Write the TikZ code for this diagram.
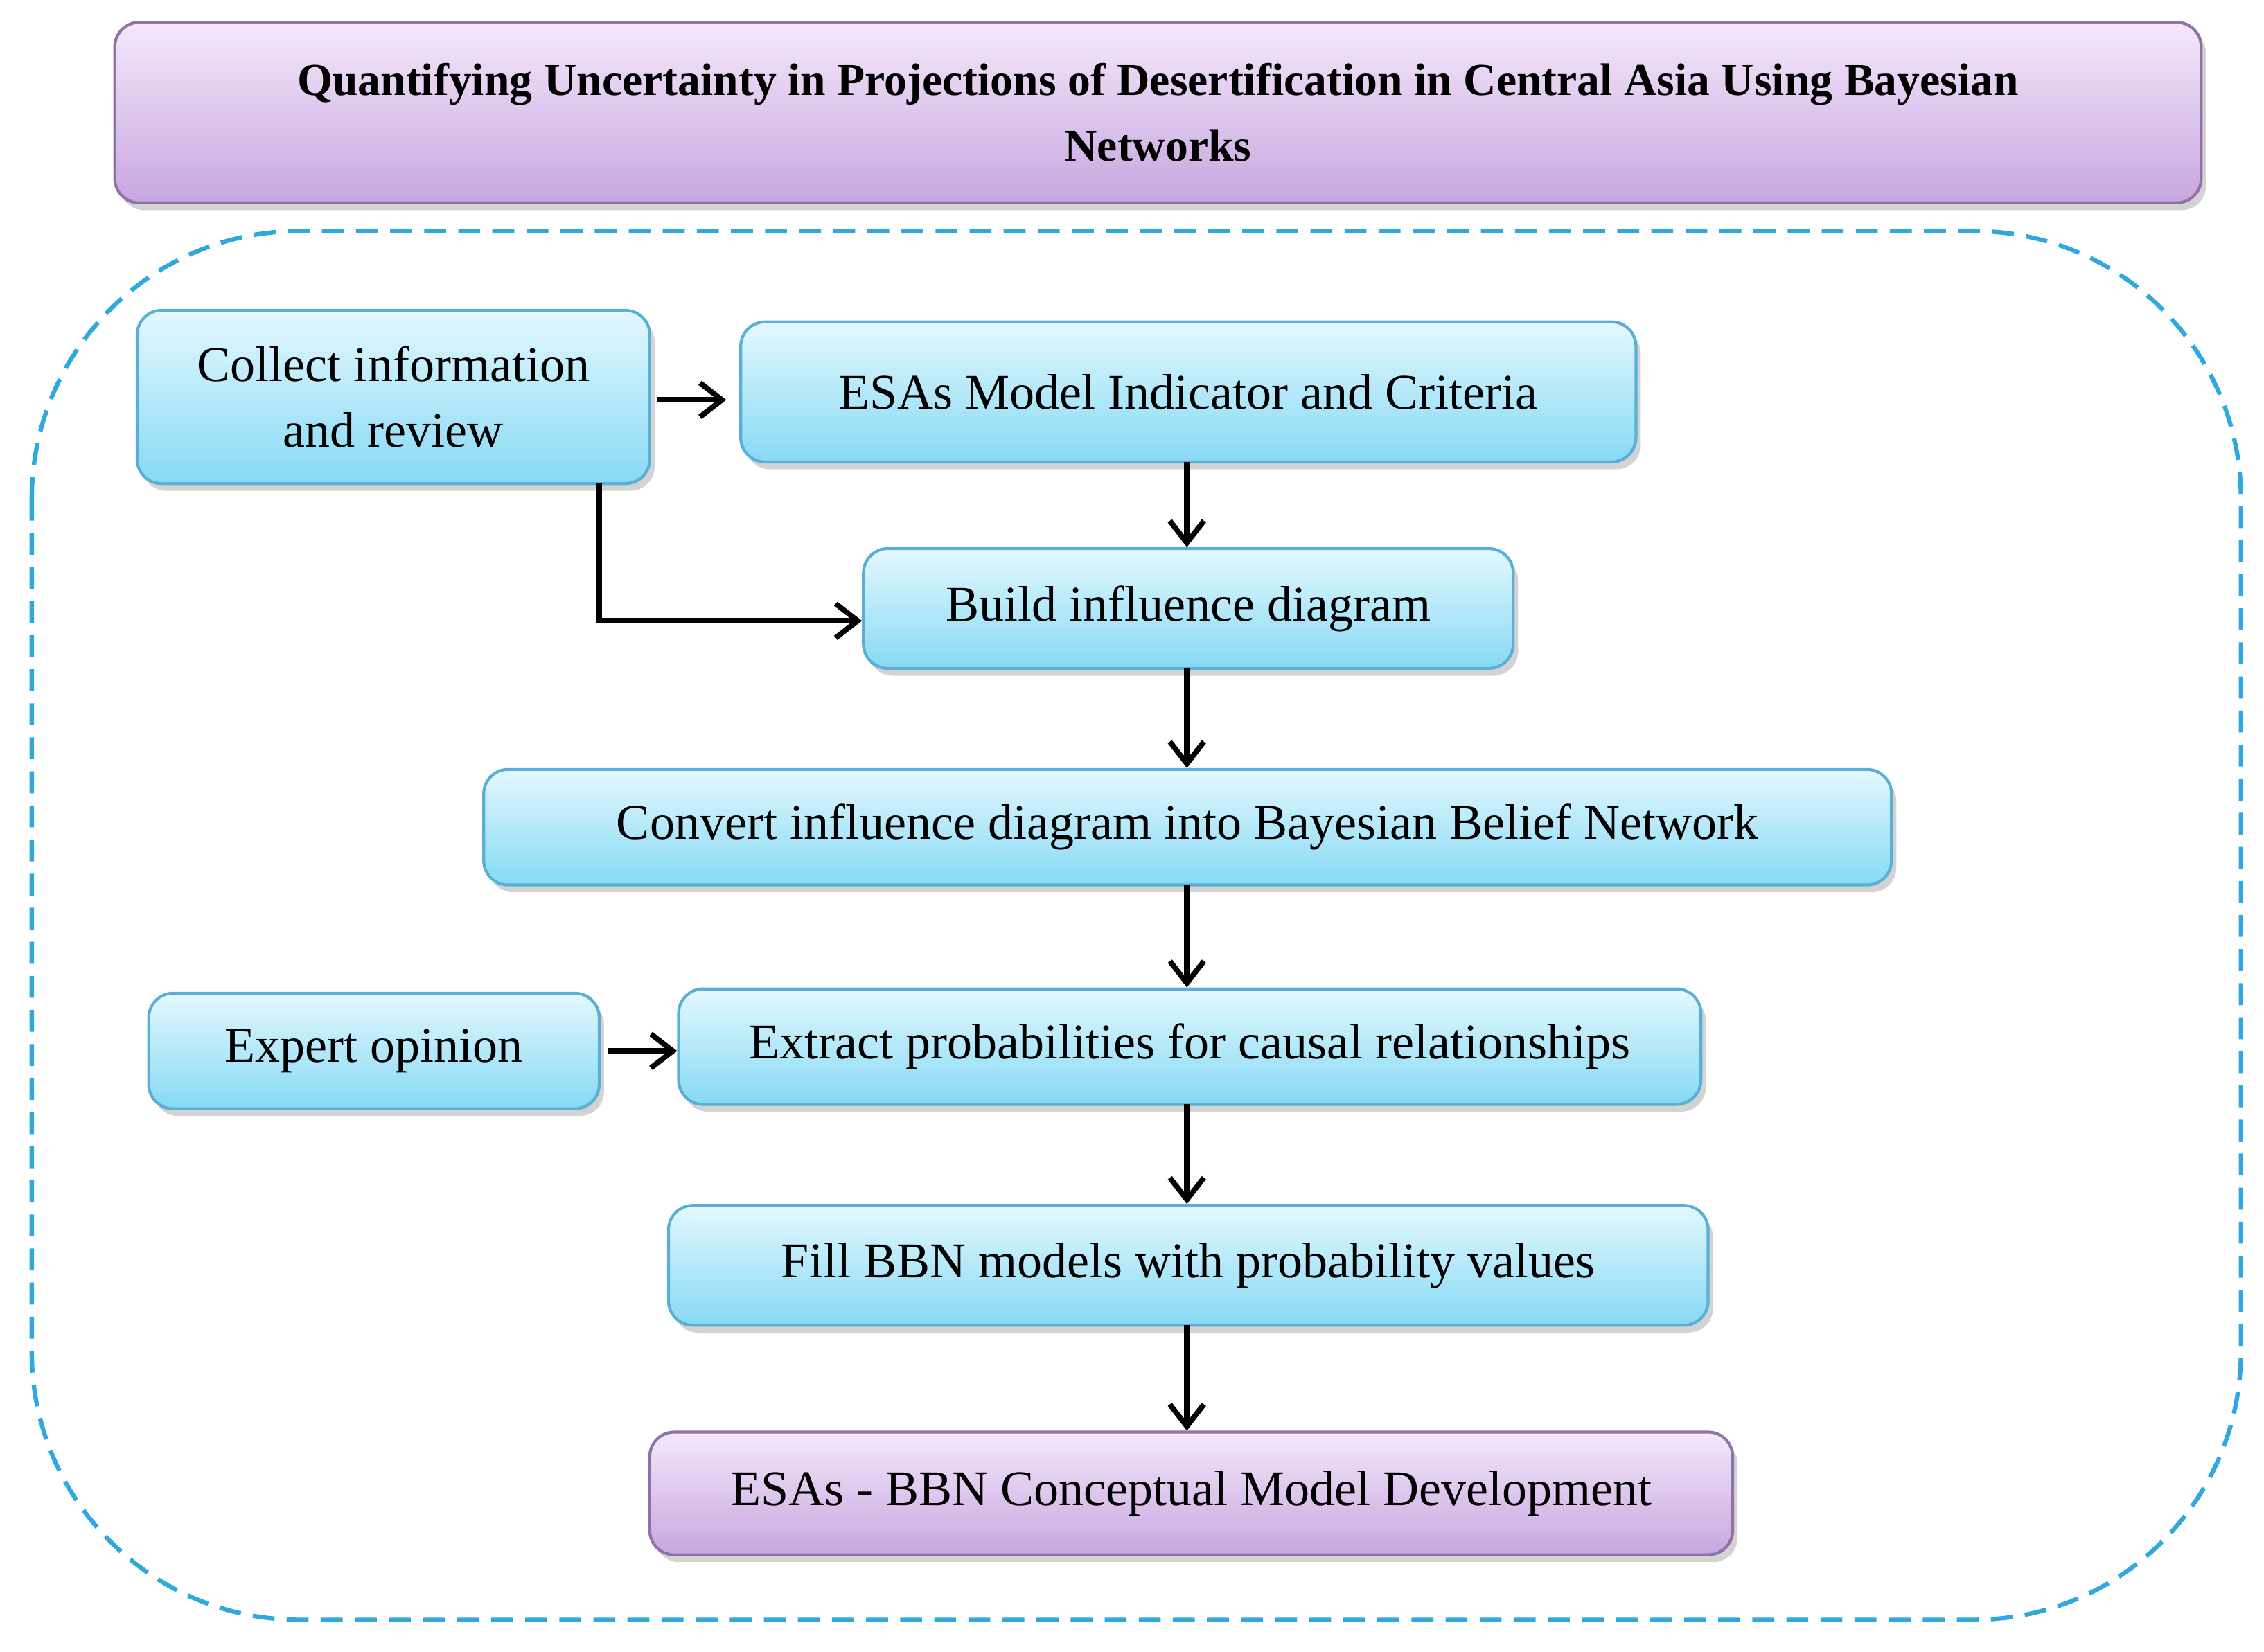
\documentclass[tikz,border=0pt]{standalone}
\usepackage{fontspec}
\setmainfont{Liberation Serif}
\usetikzlibrary{shadows,arrows.meta}
\definecolor{cyTop}{HTML}{E4F8FF}
\definecolor{cyBot}{HTML}{86D9F4}
\definecolor{cyLine}{HTML}{5AAFD6}
\definecolor{puTop}{HTML}{F4E8FA}
\definecolor{puBot}{HTML}{C7A6E0}
\definecolor{puLine}{HTML}{8E72A8}
\definecolor{frameblue}{HTML}{2FA8E0}
\begin{document}
\begin{tikzpicture}[x=0.02084cm,y=-0.02084cm,
  box/.style={draw=cyLine,line width=1.2pt,rounded corners=10pt,top color=cyTop,bottom color=cyBot,
    drop shadow={shadow xshift=2pt,shadow yshift=-3pt,opacity=0.35},font=\fontsize{20.5}{27}\selectfont,align=center,inner sep=0pt},
  pbox/.style={box,draw=puLine,top color=puTop,bottom color=puBot},
  arr/.style={-{Straight Barb[length=9pt,width=14pt]},line width=2.2pt}]
\useasboundingbox (0,0) rectangle (1568,1144);
\def\bx#1#2#3#4#5#6#7{\node[#1,minimum width=(#5-#3)*0.02084cm,minimum height=(#6-#4)*0.02084cm] (#2) at ({(#3+#5)/2},{(#4+#6)/2}) {#7};}
\node[pbox,minimum width=1445*0.02084cm,minimum height=125*0.02084cm,font=\fontsize{18.7}{27}\selectfont\bfseries] (title) at (802,78) {Quantifying Uncertainty in Projections of Desertification in Central Asia Using Bayesian\\Networks};
\draw[frameblue,line width=1.8pt,dash pattern=on 9pt off 5pt,rounded corners=110pt] (22,160) rectangle (1552,1122);
\bx{box}{collect}{95}{215}{450}{335}{Collect information\\and review}
\bx{box}{esa}{513}{223}{1133}{320}{ESAs Model Indicator and Criteria}
\bx{box}{build}{598}{380}{1048}{463}{Build influence diagram}
\bx{box}{conv}{335}{533}{1310}{613}{Convert influence diagram into Bayesian Belief Network}
\bx{box}{expert}{103}{688}{415}{768}{Expert opinion}
\bx{box}{extract}{470}{685}{1178}{765}{Extract probabilities for causal relationships}
\bx{box}{fill}{463}{835}{1183}{918}{Fill BBN models with probability values}
\bx{pbox}{dev}{450}{992}{1200}{1077}{ESAs - BBN Conceptual Model Development}
\coordinate (c1) at (415,335);
\coordinate (c2) at (415,430);
\coordinate (a1) at (455,277);
\coordinate (a2) at (503,277);
\draw[arr] (a1) -- (a2);
\draw[arr] (c1) -- (c2) -- (build.west|-c2);
\draw[arr] (822,320) -- (build.north-|822,0);
\draw[arr] (822,463) -- (conv.north-|822,0);
\draw[arr] (822,613) -- (extract.north-|822,0);
\draw[arr] ([xshift=3pt]expert.east) -- (extract.west|-expert.east);
\draw[arr] (822,765) -- (fill.north-|822,0);
\draw[arr] (822,918) -- (dev.north-|822,0);
\end{tikzpicture}
\end{document}
